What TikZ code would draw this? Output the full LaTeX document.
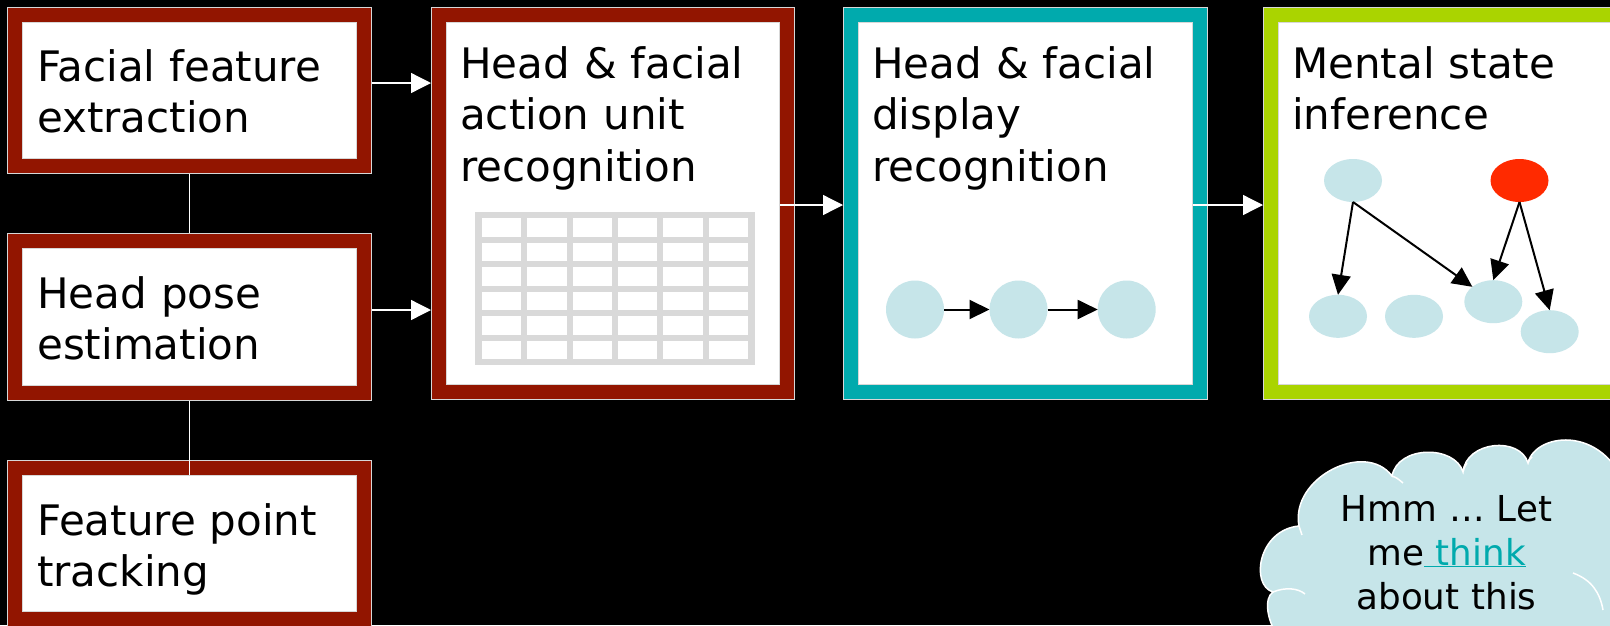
\documentclass[tikz,border=0pt]{standalone}
\usepackage{fontspec}
\setmainfont{DejaVu Sans}
\usetikzlibrary{arrows.meta,calc,shapes.geometric}
\definecolor{boxred}{RGB}{146,21,0}
\definecolor{boxteal}{RGB}{0,170,173}
\definecolor{boxgreen}{RGB}{170,212,0}
\definecolor{nodeblue}{RGB}{198,229,233}
\definecolor{nodered}{RGB}{255,42,0}
\definecolor{gridgray}{RGB}{217,217,217}
\definecolor{edgegray}{RGB}{215,215,215}
\tikzset{
  stage/.style={rectangle, draw=edgegray, line width=1pt, double=#1, double distance=14pt,
    fill=white, inner sep=0pt, outer sep=8pt, minimum width=349pt},
  stagetext/.style={anchor=base west, inner sep=0pt, text width=330pt, align=left,
    font=\fontsize{42}{51.5}\selectfont, text=black},
  link/.style={draw=white, line width=1.3pt},
  linkarrow/.style={link, -{Triangle[length=20pt,width=20pt]}},
  dot/.style={circle, fill=nodeblue, minimum size=58pt, inner sep=0pt, outer sep=0pt},
  bnode/.style={ellipse, fill=#1, minimum width=58pt, minimum height=43pt, inner sep=0pt, outer sep=0pt},
  darrow/.style={draw=black, line width=2pt, -{Triangle[length=20pt,width=19pt]}},
  cloudline/.style={draw=white, line width=1.5pt},
}
\begin{document}
\begin{tikzpicture}[x=1pt,y=-1pt]
\useasboundingbox (0,0) rectangle (1610,625);
\clip (0,0) rectangle (1610,625);
\fill[black] (0,0) rectangle (1610,625);

% stage boxes
\node[stage=boxred, minimum height=151pt] (b1) at (189.5,90.5) {};
\node[stage=boxred, minimum height=152pt] (b2) at (189.5,317) {};
\node[stage=boxred, minimum height=151pt] (b3) at (189.5,543.5) {};
\node[stage=boxred, minimum width=348pt, minimum height=377pt] (b4) at (613,203.5) {};
\node[stage=boxteal, minimum height=377pt] (b7) at (1025.5,203.5) {};
\node[stage=boxgreen, minimum height=377pt] (b10) at (1445.5,203.5) {};

% texts
\node[stagetext] (t1) at (37,81) {Facial feature\\extraction};
\node[stagetext] (t2) at (37,308) {Head pose\\estimation};
\node[stagetext] (t3) at (37,535) {Feature point\\tracking};
\node[stagetext] (t4) at (460,78) {Head \& facial\\action unit\\recognition};
\node[stagetext] (t7) at (872,78) {Head \& facial\\display\\recognition};
\node[stagetext] (t10) at (1292,78) {Mental state\\inference};

% grid in action unit box
\fill[gridgray] (475,212) rectangle (755,365);
\foreach \i in {0,...,5}{
  \foreach \j in {0,...,5}{
    \fill[white] ({482+45.3*\i},{218.3+24.5*\j}) rectangle ++(39.3,18.4);
  }
}

% display chain
\node[dot] (c1) at (915,309.5) {};
\node[dot] (c2) at (1018.5,309.5) {};
\node[dot] (c3) at (1126.7,309.5) {};
\draw[darrow] (c1.east) -- (c2.west);
\draw[darrow] (c2.east) -- (c3.west);

% mental state network
\node[bnode=nodeblue] (e1) at (1353,180.5) {};
\node[bnode=nodered] (e2) at (1519.5,180.5) {};
\node[bnode=nodeblue] (e3) at (1338,316.3) {};
\node[bnode=nodeblue] (e4) at (1414,316.3) {};
\node[bnode=nodeblue] (e5) at (1493.3,301.7) {};
\node[bnode=nodeblue] (e6) at (1549.7,331.7) {};
\draw[darrow] (e1.south) -- (e3.north);
\draw[darrow] (e1.south) -- (e5);
\draw[darrow] (e2.south) -- (e5.north);
\draw[darrow] (e2.south) -- (e6.north);

% connectors between stages
\draw[link] (b1.south) -- (b2.north);
\draw[link] (b2.south) -- ($(b3.north)+(0,15)$);
\draw[linkarrow] ($(b1.east)+(0,-7.5)$) -- ($(b4.west)+(0,-120.5)$);
\draw[linkarrow] ($(b2.east)+(0,-7)$) -- ($(b4.west)+(0,106.5)$);
\draw[linkarrow] ($(b4.east)+(-15,1.5)$) -- ($(b7.west)+(0,1.5)$);
\draw[linkarrow] ($(b7.east)+(-15,1.5)$) -- ($(b10.west)+(0,1.5)$);

% thought cloud
\fill[nodeblue] (1280,640) .. controls (1266,620) and (1264,598) .. (1273,592)
  .. controls (1250,585) and (1258,530) .. (1299,526)
  .. controls (1290,478) and (1365,440) .. (1392,476)
  .. controls (1398,445) and (1455,445) .. (1463,472)
  .. controls (1466,441) and (1520,436) .. (1528,463)
  .. controls (1535,432) and (1610,422) .. (1630,500)
  -- (1630,640) -- cycle;
\draw[cloudline] (1280,640) .. controls (1266,620) and (1264,598) .. (1273,592)
  .. controls (1250,585) and (1258,530) .. (1299,526)
  .. controls (1290,478) and (1365,440) .. (1392,476)
  .. controls (1398,445) and (1455,445) .. (1463,472)
  .. controls (1466,441) and (1520,436) .. (1528,463)
  .. controls (1535,432) and (1610,422) .. (1630,500);
\draw[cloudline] (1273,592) .. controls (1285,587) and (1298,588) .. (1305,594);
\draw[cloudline] (1299,526) .. controls (1300,529) .. (1302,535);
\draw[cloudline] (1392,476) .. controls (1397,478) .. (1403,483);
\draw[cloudline] (1463,472) .. controls (1464,468) .. (1467,463);
\draw[cloudline] (1528,463) .. controls (1529,460) .. (1532,457);
\draw[cloudline] (1573,573) .. controls (1592,580) and (1600,593) .. (1603,610);
\node[anchor=base, inner sep=0pt, text width=300pt, align=center,
  font=\fontsize{35.7}{44}\selectfont, text=black] (thought) at (1446.5,521)
  {Hmm … Let\\me\textcolor{boxteal}{\underline{\ think}}\\about this};
\end{tikzpicture}
\end{document}
